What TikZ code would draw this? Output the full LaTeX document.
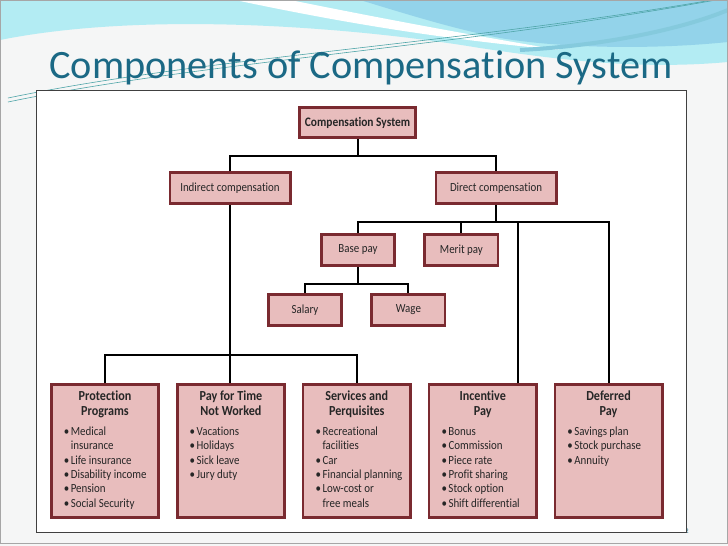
\documentclass[tikz,border=0pt]{standalone}
\usepackage{fontspec}
\setmainfont{Carlito}[Ligatures=NoCommon]
\newfontfamily\boxfont{Carlito}[FakeStretch=0.88, Ligatures=NoCommon]
\usepackage{xcolor}
\definecolor{cpink}{HTML}{E8BDBD}
\definecolor{cmaroon}{HTML}{7A2A30}
\definecolor{ctitle}{HTML}{1B6985}
\definecolor{cwave}{HTML}{B3ECF3}
\definecolor{cblue}{HTML}{93D3EA}
\definecolor{cteal}{HTML}{4FA5A8}
\definecolor{cslide}{HTML}{F5F6F6}
\usetikzlibrary{positioning}
\newcommand{\pitem}[1]{\par\noindent\hangindent=14.5pt\hangafter=1\hbox to 14.5pt{\hskip7.5pt\textbullet\hfil}#1}
\newcommand{\benefit}[2]{\parbox[t][121pt][t]{97.4pt}{\raggedright
  {\centering\bfseries\fontsize{13.8}{15}\selectfont #1\par}\vspace{6pt}#2}}

\begin{document}
\begin{tikzpicture}[
  x=1pt, y=-1pt, line width=2pt,
  compbox/.style={rectangle, draw=cmaroon, line width=2.6pt, fill=cpink, text=black!85,
    minimum width=73.4pt, minimum height=31.4pt, inner sep=0pt, font=\boxfont\fontsize{12.4}{14}\selectfont},
  widebox/.style={compbox, minimum width=120.4pt},
  topbox/.style={compbox, minimum width=116.4pt, minimum height=30.4pt},
  benefitbox/.style={compbox, inner xsep=5pt, inner ysep=6pt, font=\boxfont\fontsize{12.4}{14.3}\selectfont},
]
  \useasboundingbox (0,0) rectangle (728,546);
  % slide background
  \fill[cslide] (0,0) rectangle (728,546);
  \fill[cwave] (0,0) -- (728,0) -- (728,62) .. controls (640,70) and (560,60) .. (480,48)
    .. controls (360,28) and (150,10) .. (0,40) -- cycle;
  \fill[cblue] (360,0) -- (728,0) -- (728,42) .. controls (650,50) and (560,48) .. (500,38)
    .. controls (450,28) and (400,12) .. (360,0) -- cycle;
  \fill[white] (235,0) .. controls (330,20) and (430,38) .. (560,50)
    .. controls (440,30) and (340,10) .. (290,0) -- cycle;
  \draw[cblue!80!cteal, line width=4pt] (520,50) .. controls (600,46) and (680,30) .. (728,10);
  \draw[cteal, line width=0.6pt] (8,98) .. controls (200,58) and (450,45) .. (712,0);
  \draw[cteal, line width=0.6pt] (8,102) .. controls (200,62) and (450,48) .. (716,0);
  \draw[gray!70, line width=0.8pt] (0.5,0.5) rectangle (727.5,543);

  \node[anchor=base, text=ctitle, font=\fontsize{40.3}{44}\selectfont] (title) at (361,78.5)
    {Components of Compensation System};
  \node[anchor=east, text=ctitle, font=\fontsize{7}{8}\selectfont] (pagenum) at (693,531) {12};
  \draw[fill=white, draw=black!75, line width=0.8pt] (36,90) rectangle (686,532);

  % upper levels
  \node[topbox] (cs) at (357.5,122.5) {\bfseries\fontsize{13}{14}\selectfont Compensation System};
  \node[widebox] (ind) at (230,188) {Indirect compensation};
  \node[widebox] (dir) at (496,188) {Direct compensation};
  \node[compbox] (base) at (358,250) {Base pay};
  \node[compbox, right=27.4pt of base] (merit) {Merit pay};
  \node[compbox] (sal) at (305,310) {Salary};
  \node[compbox, right=27.4pt of sal] (wage) {Wage};

  % bottom row
  \node[benefitbox, anchor=north west] (prot) at (50,383.3) {\benefit{Protection\\Programs}{%
    \pitem{Medical\newline insurance}\pitem{Life insurance}\pitem{Disability income}%
    \pitem{Pension}\pitem{Social Security}}};
  \node[benefitbox, right=15.9pt of prot] (paytime) {\benefit{Pay for Time\\Not Worked}{%
    \pitem{Vacations}\pitem{Holidays}\pitem{Sick leave}\pitem{Jury duty}}};
  \node[benefitbox, right=15.9pt of paytime] (serv) {\benefit{Services and\\Perquisites}{%
    \pitem{Recreational\newline facilities}\pitem{Car}\pitem{Financial planning}%
    \pitem{Low-cost or\newline free meals}}};
  \node[benefitbox, right=15.9pt of serv] (incent) {\benefit{Incentive\\Pay}{%
    \pitem{Bonus}\pitem{Commission}\pitem{Piece rate}\pitem{Profit sharing}%
    \pitem{Stock option}\pitem{Shift differential}}};
  \node[benefitbox, right=15.9pt of incent] (defer) {\benefit{Deferred\\Pay}{%
    \pitem{Savings plan}\pitem{Stock purchase}\pitem{Annuity}}};

  % connectors
  \draw (cs.south) -- ++(0,17) coordinate (tbus);
  \draw (ind.north) |- (tbus) -| (dir.north);
  \draw (dir.south) -- ++(0,17) coordinate (dbus);
  \draw (base.north) |- (dbus) -| (defer.north);
  \draw (merit.north) -- (merit.north |- dbus);
  \draw ([xshift=35pt]incent.north) -- ([xshift=35pt]incent.north |- dbus);
  \draw (base.south) -- ++(0,17) coordinate (bbus);
  \draw (sal.north) |- (bbus) -| (wage.north);
  \draw (ind.south) -- (ind.south |- paytime.north);
  \draw (prot.north) -- ++(0,-28) -| (serv.north);
\end{tikzpicture}
\end{document}
